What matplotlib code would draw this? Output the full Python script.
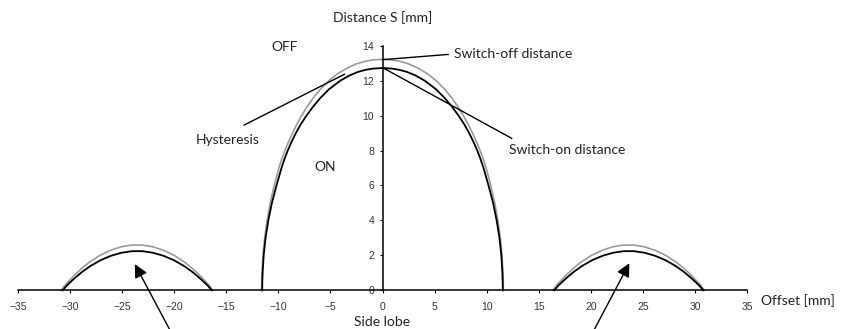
import matplotlib.pyplot as plt
import numpy as np

# main lobe, switch-on (black) and switch-off (grey), right half
on_half_x = [11.55, 11.54, 11.51, 11.41, 11.23, 10.96, 10.62, 10.18, 9.7, 9.42, 9.1, 8.73, 8.32, 7.85, 7.3,
             6.68, 5.98, 5.15, 4.05, 3.15, 2.35, 1.6, 0.9, 0]
on_half_y = [0, 0.5, 1, 2, 3, 4, 5, 6, 7, 7.5, 8, 8.5, 9, 9.5, 10,
             10.5, 11, 11.5, 12, 12.3, 12.5, 12.62, 12.69, 12.72]
off_half_x = [11.6, 11.59, 11.57, 11.47, 11.31, 11.08, 10.78, 10.4, 9.95, 9.68, 9.37, 9.02, 8.64, 8.22, 7.76,
              7.25, 6.66, 5.98, 5.15, 4.3, 3.45, 2.55, 1.72, 0.88, 0]
off_half_y = [0, 0.5, 1, 2, 3, 4, 5, 6, 7, 7.5, 8, 8.5, 9, 9.5, 10,
              10.5, 11, 11.5, 12, 12.4, 12.7, 12.95, 13.1, 13.19, 13.22]

# side lobes
left_on_x = [-30.7, -30.35, -29.95, -29.45, -28.85, -28.05, -27.05, -26.05, -25.05, -24.05,
             -23.05, -22.05, -21.05, -20.05, -19.05, -18.25, -17.65, -17.15, -16.75, -16.4]
left_on_y = [0, 0.25, 0.48, 0.75, 1.05, 1.39, 1.73, 1.98, 2.15, 2.24,
             2.24, 2.15, 1.98, 1.73, 1.39, 1.05, 0.75, 0.48, 0.25, 0]
left_off_x = [-30.85, -30.5, -30.08, -29.57, -28.96, -28.15, -27.13, -26.11, -25.09, -24.08,
              -23.06, -22.04, -21.02, -20.0, -18.99, -18.18, -17.57, -17.06, -16.65, -16.3]
left_off_y = [0, 0.29, 0.55, 0.87, 1.21, 1.61, 2.0, 2.29, 2.49, 2.59,
              2.59, 2.49, 2.29, 2.0, 1.61, 1.21, 0.87, 0.55, 0.29, 0]
right_on_x = [16.5, 16.85, 17.25, 17.75, 18.35, 19.15, 20.15, 21.15, 22.15, 23.15,
              24.15, 25.15, 26.15, 27.15, 28.15, 28.95, 29.55, 30.05, 30.45, 30.8]
right_on_y = left_on_y
right_off_x = [16.35, 16.7, 17.12, 17.63, 18.24, 19.05, 20.07, 21.09, 22.11, 23.12,
               24.14, 25.16, 26.18, 27.2, 28.21, 29.02, 29.63, 30.14, 30.55, 30.9]
right_off_y = left_off_y

xticks = np.arange(-35, 36, 5)
yticks = np.arange(0, 15, 2)

# mirror the main lobe halves
main_on_x = [-v for v in on_half_x] + on_half_x[::-1][1:]
main_on_y = on_half_y + on_half_y[::-1][1:]
main_off_x = [-v for v in off_half_x] + off_half_x[::-1][1:]
main_off_y = off_half_y + off_half_y[::-1][1:]

fig = plt.figure(figsize=(8.44, 3.29), dpi=100)
ax = fig.add_axes([0.0213, 0.1176, 0.8638, 0.7435])

grey = '#9a9a9a'
for xs, ys in [(main_off_x, main_off_y), (left_off_x, left_off_y), (right_off_x, right_off_y)]:
    ax.plot(xs, ys, color=grey, lw=1.2, clip_on=False)
for xs, ys in [(main_on_x, main_on_y), (left_on_x, left_on_y), (right_on_x, right_on_y)]:
    ax.plot(xs, ys, color='black', lw=1.3, clip_on=False)

ax.set_xlim(-35, 35)
ax.set_ylim(0, 14)
ax.spines['left'].set_position(('data', 0))
ax.spines['top'].set_visible(False)
ax.spines['right'].set_visible(False)
for s in ['left', 'bottom']:
    ax.spines[s].set_linewidth(1.1)
ax.set_xticks(xticks)
ax.set_yticks(yticks)
ax.tick_params(axis='x', direction='out', length=2.5, width=0.8, pad=6, labelsize=7.5, labelcolor='#333333')
ax.tick_params(axis='y', direction='out', length=2, width=0.8, pad=4, labelsize=7.5, labelcolor='#333333')
for lab in ax.get_xticklabels() + ax.get_yticklabels():
    lab.set_family('Liberation Sans')

tf = dict(family='Lato', fontsize=10, color='#222222')
ax.text(0, 15.6, 'Distance S [mm]', ha='center', va='center', **tf)
ax.text(36.3, -0.6, 'Offset [mm]', ha='left', va='center', **tf)
ax.text(-9.35, 13.9, 'OFF', ha='center', va='center', **tf)
ax.text(-5.5, 7.07, 'ON', ha='center', va='center', **tf)
ax.text(-14.9, 8.6, 'Hysteresis', ha='center', va='center', **tf)
ax.text(6.9, 13.5, 'Switch-off distance', ha='left', va='center', **tf)
ax.text(12.1, 8.03, 'Switch-on distance', ha='left', va='center', **tf)
ax.text(0, -1.8, 'Side lobe', ha='center', va='center', **tf)

ax.plot([-13.28, -3.67], [9.46, 12.36], color='black', lw=1.0, clip_on=False)
ax.plot([0, 6.3], [13.2, 13.5], color='black', lw=1.0, clip_on=False)
ax.plot([0.24, 12.4], [12.67, 8.7], color='black', lw=1.0, clip_on=False)

arrow = dict(arrowstyle='-|>', mutation_scale=20, lw=1.0, color='black', shrinkA=0, shrinkB=0)
ax.annotate('', xy=(-23.78, 1.5), xytext=(-20.3, -2.4), arrowprops=arrow, annotation_clip=False)
ax.annotate('', xy=(23.7, 1.55), xytext=(20.2, -2.4), arrowprops=arrow, annotation_clip=False)

fig.savefig('out.png', dpi=100)
